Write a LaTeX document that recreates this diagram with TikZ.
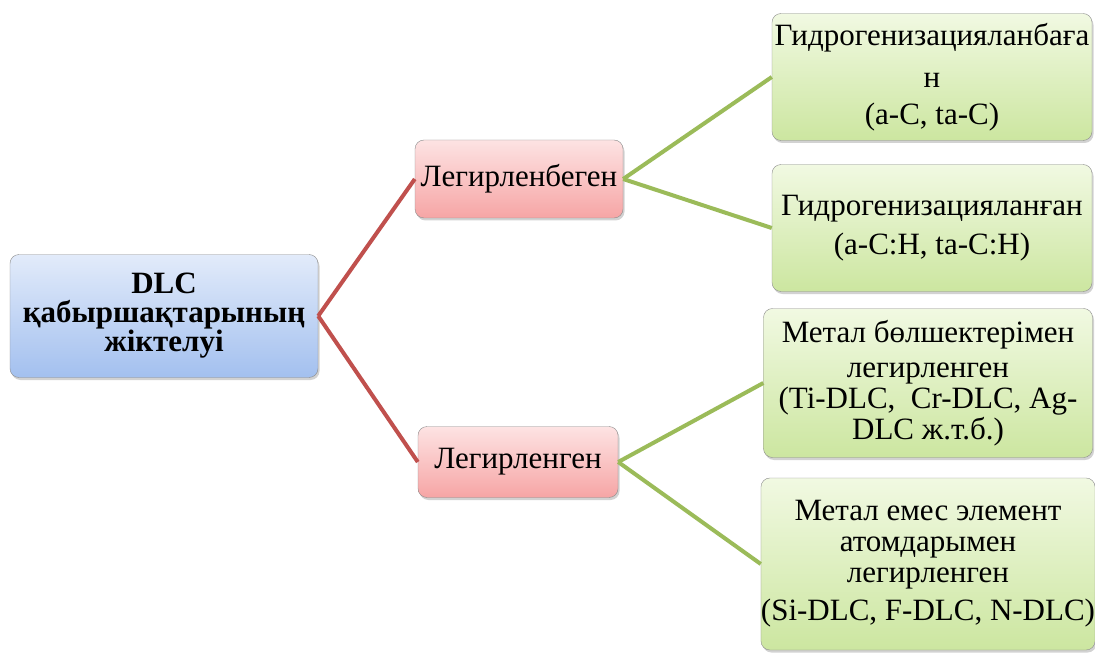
\documentclass[tikz,border=0pt]{standalone}
\usepackage{fontspec}
\setmainfont{Liberation Serif}
\usetikzlibrary{shadows}
\definecolor{rootA}{HTML}{E2EBFA}
\definecolor{rootB}{HTML}{A3C0EF}
\definecolor{pinkA}{HTML}{FDE3E3}
\definecolor{pinkB}{HTML}{F6A5A5}
\definecolor{greenA}{HTML}{F1F9E2}
\definecolor{greenB}{HTML}{CCE6A0}
\definecolor{redline}{HTML}{C0504D}
\definecolor{greenline}{HTML}{9BBB59}
\tikzset{
  box/.style={draw=black!45, rounded corners=9pt, align=center, inner sep=0pt,
    font=\fontsize{31}{31}\selectfont,
    drop shadow={shadow xshift=1.5pt, shadow yshift=-2.5pt, opacity=0.35}},
  rootbox/.style={box, top color=rootA, bottom color=rootB, font=\fontsize{31}{29}\selectfont\bfseries},
  pinkbox/.style={box, top color=pinkA, bottom color=pinkB},
  greenbox/.style={box, top color=greenA, bottom color=greenB},
  redlink/.style={draw=redline, line width=4pt},
  greenlink/.style={draw=greenline, line width=4pt}
}
\begin{document}
\begin{tikzpicture}[x=1pt,y=-1pt]
\useasboundingbox[fill=white] (0,0) rectangle (1095,655);
% root
\node[rootbox, minimum width=308, minimum height=123] (root) at (164,316) {DLC\\қабыршақтарының\\жіктелуі};
% second level
\node[pinkbox, minimum width=208, minimum height=78] (lb) at (519,179) {Легирленбеген};
\node[pinkbox, minimum width=200, minimum height=71] (lg) at (518,462) {Легирленген};
% leaves
\node[greenbox, minimum width=320, minimum height=127] (g1) at (932,77) {Гидрогенизацияланбаға\\[11pt]н\\[6pt](a-C, ta-C)};
\node[greenbox, minimum width=320, minimum height=127] (g2) at (932,228) {Гидрогенизацияланған\\[8pt](a-C:H, ta-C:H)};
\node[greenbox, minimum width=329, minimum height=149] (g3) at (928,383) {Метал бөлшектерімен\\[4pt]легирленген\\(Ti-DLC,\ \ Cr-DLC, Ag-\\DLC ж.т.б.)};
\node[greenbox, minimum width=329, minimum height=172] (g4) at (928,564) {Метал емес элемент\\атомдарымен\\легирленген\\[7pt](Si-DLC, F-DLC, N-DLC)};
% links
\draw[redlink] (root.east) -- (lb.west);
\draw[redlink] (root.east) -- (lg.west);
\draw[greenlink] (lb.east) -- (g1.west);
\draw[greenlink] (lb.east) -- (g2.west);
\draw[greenlink] (lg.east) -- (g3.west);
\draw[greenlink] (lg.east) -- (g4.west);
\end{tikzpicture}
\end{document}
